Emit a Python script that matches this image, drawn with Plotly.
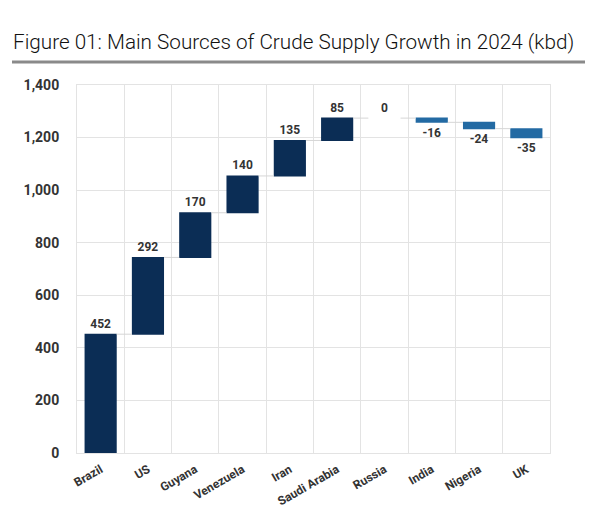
import plotly.graph_objects as go

categories = ["Brazil", "US", "Guyana", "Venezuela", "Iran", "Saudi Arabia",
              "Russia", "India", "Nigeria", "UK"]
values = [452, 292, 170, 140, 135, 85, 0, -16, -24, -35]
title_text = "Figure 01: Main Sources of Crude Supply Growth in 2024 (kbd)"

fig = go.Figure(go.Waterfall(
    x=categories,
    y=values,
    measure=["relative"] * len(values),
    text=[str(v) for v in values],
    textposition="outside",
    textfont=dict(family="Roboto", size=12, color="#333333", weight="bold"),
    increasing=dict(marker=dict(color="#0b2d55")),
    decreasing=dict(marker=dict(color="#236aa3")),
    connector=dict(line=dict(color="#d6d6d6", width=1)),
    width=0.68,
    cliponaxis=False,
))

# page body has an 8px margin; work in reference-pixel coordinates minus 8
OFF = 8
W, H = 593 - OFF, 513 - OFF
L, T = 77 - OFF, 85 - OFF
R = W - (550 - OFF)
B = H - (453 - OFF)
pw, ph = W - L - R, H - T - B

def px_x(x):
    return (x - OFF - L) / pw

def px_y(y):
    return (H - B - (y - OFF)) / ph

fig.update_layout(
    width=W, height=H,
    margin=dict(l=L, r=R, t=T, b=B, autoexpand=False),
    paper_bgcolor="white", plot_bgcolor="white",
    showlegend=False,
    font=dict(family="Roboto", color="#333333"),
    xaxis=dict(
        type="category",
        tickson="boundaries",
        showgrid=True, gridcolor="#e3e3e3", gridwidth=1,
        ticks="", tickangle=-30, ticklabelstandoff=4,
        tickfont=dict(family="Roboto", size=12, color="#333333", weight="bold"),
        showline=True, linecolor="#e3e3e3", mirror=True,
    ),
    yaxis=dict(
        range=[0, 1400], dtick=200, tickformat=",",
        showgrid=True, gridcolor="#e3e3e3", gridwidth=1,
        zeroline=False,
        ticks="", ticklabelstandoff=14,
        tickfont=dict(family="Roboto", size=14, color="#333333", weight="bold"),
        showline=True, linecolor="#e3e3e3", mirror=True,
    ),
    shapes=[dict(type="line", xref="paper", yref="paper",
                 x0=px_x(12), x1=px_x(585), y0=px_y(62), y1=px_y(62),
                 line=dict(color="#8a8a8a", width=3))],
    annotations=[dict(text=title_text, xref="paper", yref="paper",
                      x=px_x(11), y=px_y(42), xanchor="left", yanchor="middle",
                      showarrow=False,
                      font=dict(family="Roboto", size=20.7, color="#111111",
                                weight=300))],
)

fig.write_html("out.html")
